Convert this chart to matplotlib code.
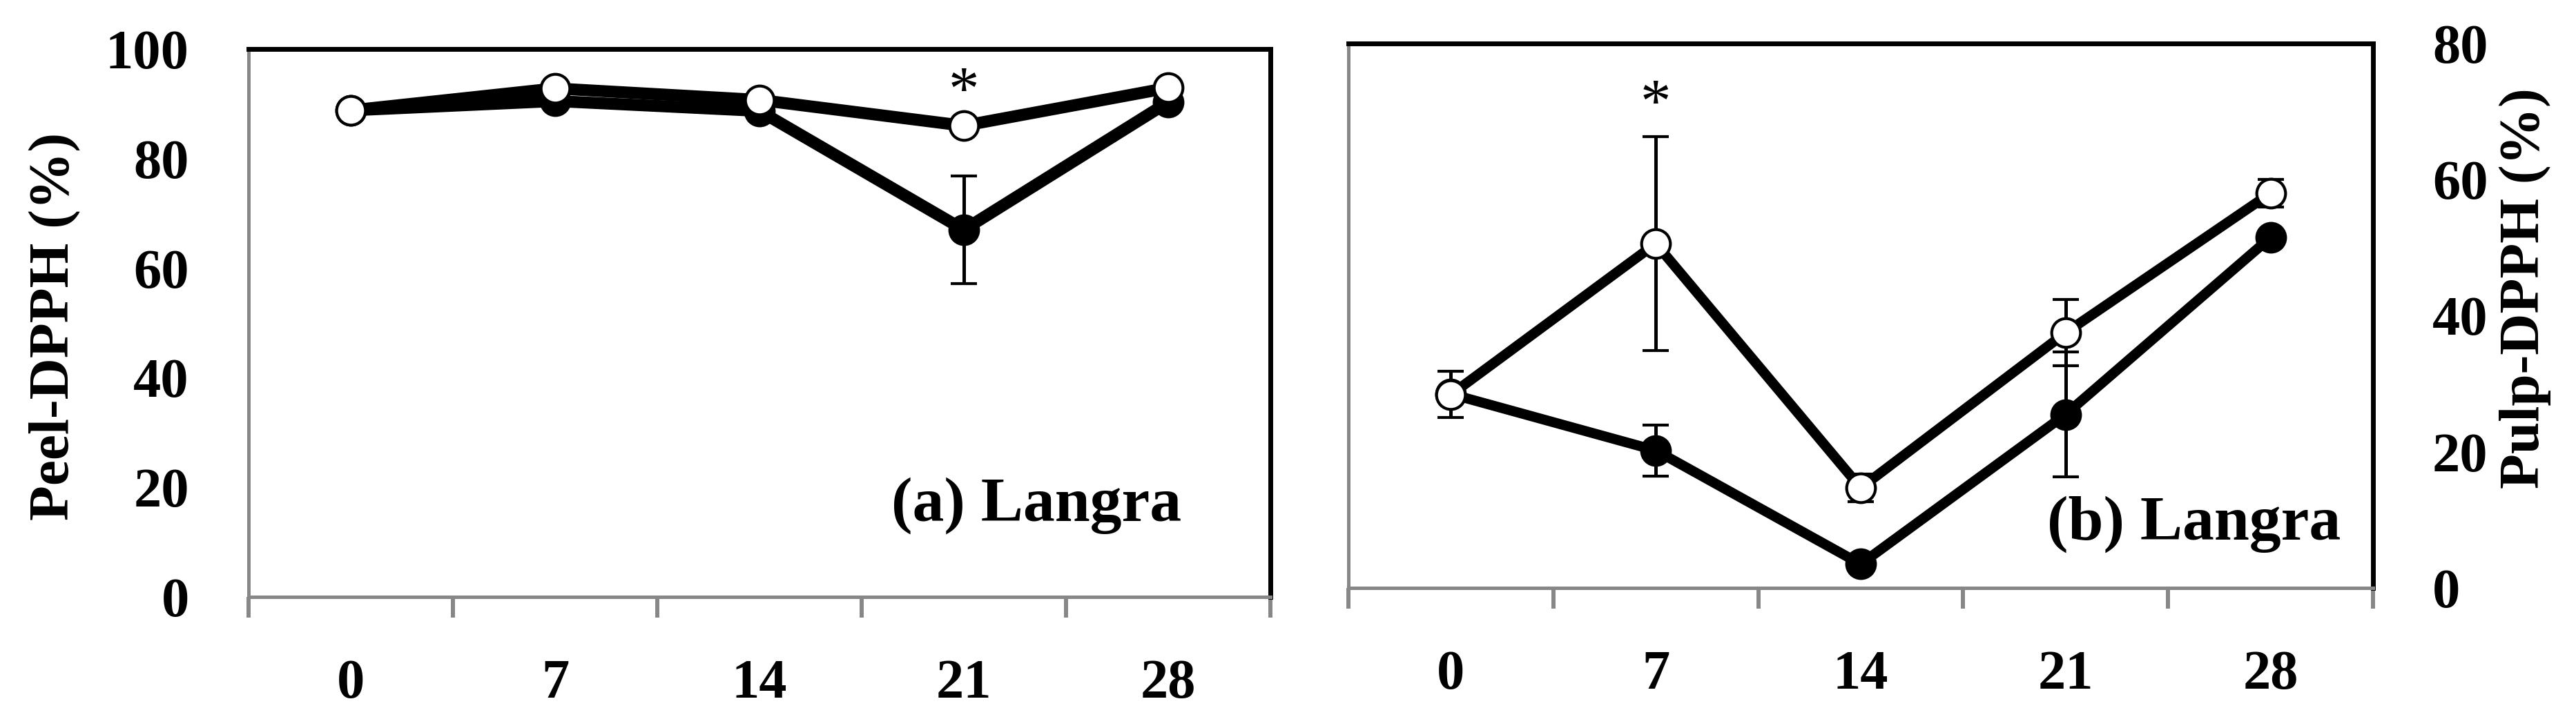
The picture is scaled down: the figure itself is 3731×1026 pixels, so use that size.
import matplotlib.pyplot as plt
from matplotlib.ticker import FixedLocator

# --- données ---
jours = ['0', '7', '14', '21', '28']

peel_plein = [88.8, 90.5, 88.7, 67.0, 90.3]
peel_plein_sd = [0.8, 0.8, 0.8, 9.8, 0.8]
peel_vide = [88.8, 92.8, 90.7, 86.0, 92.9]
peel_vide_sd = [0.5, 0.6, 0.6, 0.8, 0.6]

pulp_plein = [28.5, 20.2, 3.5, 25.5, 51.5]
pulp_plein_sd = [1.0, 3.75, 0.5, 9.2, 1.0]
pulp_vide = [28.4, 50.6, 14.7, 37.5, 58.0]
pulp_vide_sd = [3.4, 15.7, 2.0, 4.9, 2.0]

# position des astérisques (indice du jour, valeur)
etoile_peel = (3, 95.1)
etoile_pulp = (1, 73.4)

plt.rcParams['font.family'] = ['Liberation Serif', 'DejaVu Serif']
plt.rcParams['font.weight'] = 'bold'

gris = '#878787'
x = list(range(len(jours)))

fig = plt.figure(figsize=(37.31, 10.26), dpi=100)
ax1 = fig.add_axes([0.09649, 0.15692, 0.39668, 0.77388])
ax2 = fig.add_axes([0.52345, 0.16959, 0.39775, 0.76901])


def tracer(ax, y, sd, plein, lw):
    ax.errorbar(x, y, yerr=sd, fmt='-o', color='black', lw=lw,
                ms=30, mew=3, mec='black',
                mfc='black' if plein else 'white',
                ecolor='black', elinewidth=3.6, capsize=14, capthick=3,
                zorder=3 if plein else 4)


def style(ax, ymax):
    ax.set_xlim(-0.5, 4.5)
    ax.set_ylim(0, ymax)
    ax.set_yticks(range(0, ymax + 1, 20))
    ax.set_xticks(x)
    ax.set_xticklabels(jours)
    ax.xaxis.set_minor_locator(FixedLocator([i - 0.5 for i in range(6)]))
    ax.tick_params(axis='x', which='major', length=0, pad=65, labelsize=58)
    ax.tick_params(axis='x', which='minor', direction='out', length=21.6,
                   width=4.3, color=gris)
    ax.tick_params(axis='y', length=0, pad=62, labelsize=58)
    for s in ['left', 'bottom']:
        ax.spines[s].set_color(gris)
        ax.spines[s].set_linewidth(3.6)
    for s in ['top', 'right']:
        ax.spines[s].set_color('black')
        ax.spines[s].set_linewidth(5)


def etoile(ax, pos):
    ax.annotate('*', (pos[0], pos[1]), xytext=(0, -34), textcoords='offset points',
                fontsize=64, fontweight='normal', ha='center', va='baseline')


# --- (a) peau ---
tracer(ax1, peel_plein, peel_plein_sd, True, 12.5)
tracer(ax1, peel_vide, peel_vide_sd, False, 12.5)
style(ax1, 100)
ax1.set_ylabel('Peel-DPPH (%)', fontsize=60, fontweight='bold')
ax1.yaxis.set_label_coords(-0.164, 0.494)
etoile(ax1, etoile_peel)
ax1.text(0.9128, 0.1385, '(a) Langra', transform=ax1.transAxes,
         fontsize=66, fontweight='bold', ha='right', va='baseline')

# --- (b) pulpe ---
tracer(ax2, pulp_plein, pulp_plein_sd, True, 10.5)
tracer(ax2, pulp_vide, pulp_vide_sd, False, 10.5)
style(ax2, 80)
ax2.yaxis.tick_right()
ax2.yaxis.set_label_position('right')
ax2.set_ylabel('Pulp-DPPH (%)', fontsize=60, fontweight='bold', rotation=90)
ax2.yaxis.set_label_coords(1.123, 0.55)
etoile(ax2, etoile_pulp)
ax2.text(0.9683, 0.0887, '(b) Langra', transform=ax2.transAxes,
         fontsize=66, fontweight='bold', ha='right', va='baseline')

fig.savefig('out.png', dpi=100)
